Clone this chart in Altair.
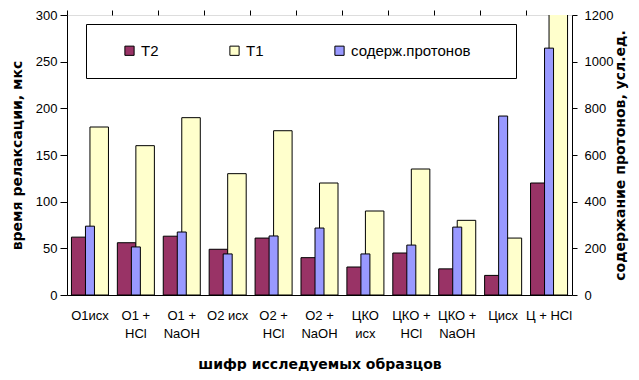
import altair as alt
import pandas as pd

categories = ["O1исх", "O1 +\nHCl", "O1 +\nNaOH", "O2 исх", "O2 +\nHCl", "O2 +\nNaOH",
              "ЦКО\nисх", "ЦКО +\nHCl", "ЦКО +\nNaOH", "Цисх", "Ц + HCl"]
t2 = [62, 56, 63, 49, 61, 40, 30, 45, 28, 21, 120]
t1 = [180, 160, 190, 130, 176, 120, 90, 135, 80, 61, 330]
protons = [295, 206, 270, 176, 253, 287, 176, 214, 291, 767, 1058]

series_names = ["T2", "T1", "содерж.протонов"]
series_colors = ["#993366", "#FFFFCC", "#9999FF"]

rows = []
for c, a, b, p in zip(categories, t2, t1, protons):
    rows.append({"cat": c, "series": "T2", "value": a})
    rows.append({"cat": c, "series": "T1", "value": b})
    rows.append({"cat": c, "series": "содерж.протонов", "value": p})
df = pd.DataFrame(rows)

FONT = "Liberation Sans"
TFONT = "DejaVu Sans"

x_enc = alt.X("cat:N", sort=categories,
              scale=alt.Scale(paddingInner=0, paddingOuter=0),
              axis=alt.Axis(title="шифр исследуемых образцов", labelAngle=0,
                            labelExpr="split(datum.label, '\\n')",
                            labelFont=FONT, labelFontSize=13, labelLineHeight=18,
                            labelPadding=14, labelColor="black",
                            ticks=False, domainColor="black",
                            titleFont=TFONT, titleFontSize=14, titleFontWeight="bold",
                            titlePadding=17, titleColor="black"))

color_enc = alt.Color("series:N",
                      scale=alt.Scale(domain=series_names, range=series_colors),
                      legend=alt.Legend(title="xx", titleOrient="right", titlePadding=10,
                                        titleFontSize=15, titleFont=FONT, titleColor="white",
                                        orient="none", direction="horizontal",
                                        legendX=19, legendY=9, columns=3,
                                        symbolType="square", symbolSize=85,
                                        symbolStrokeColor="black", symbolStrokeWidth=1,
                                        labelFont=FONT, labelFontSize=15, labelColor="black",
                                        columnPadding=51, padding=19, symbolOffset=17,
                                        strokeColor="black", fillColor="white",
                                        labelLimit=300))

primary = alt.Chart(df).transform_filter(
    alt.FieldOneOfPredicate(field="series", oneOf=["T2", "T1"])
).mark_bar(stroke="black", strokeWidth=1, clip=True).encode(
    x=x_enc,
    xOffset=alt.XOffset("series:N", sort=["T2", "T1"],
                        scale=alt.Scale(domain=["T2", "T1"], paddingInner=0, paddingOuter=0.24)),
    y=alt.Y("value:Q", scale=alt.Scale(domain=[0, 300], nice=False),
            axis=alt.Axis(title="время релаксации, мкс", values=[0, 50, 100, 150, 200, 250, 300],
                          grid=False, labelFont=FONT, labelFontSize=13, labelColor="black",
                          tickSize=7, tickColor="black", domainColor="black", labelPadding=3,
                          titleFont=TFONT, titleFontSize=14, titleFontWeight="bold",
                          titleColor="black", titlePadding=11)),
    color=color_enc,
)

secondary = alt.Chart(df).transform_filter(
    alt.FieldEqualPredicate(field="series", equal="содерж.протонов")
).mark_bar(stroke="black", strokeWidth=1, width=9, clip=True).encode(
    x=alt.X("cat:N", sort=categories, axis=None),
    y=alt.Y("value:Q", scale=alt.Scale(domain=[0, 1200], nice=False),
            axis=alt.Axis(title="содержание протонов, усл.ед.", orient="right",
                          values=[0, 200, 400, 600, 800, 1000, 1200], format="d",
                          grid=False, labelFont=FONT, labelFontSize=13, labelColor="black",
                          tickSize=5, tickColor="black", domainColor="black", labelPadding=7,
                          titleFont=TFONT, titleFontSize=14, titleFontWeight="bold",
                          titleColor="black", titleAngle=270, titleBaseline="top",
                          titlePadding=1)),
    color=color_enc,
)

ticks_layer = alt.Chart(df).transform_filter(
    alt.FieldEqualPredicate(field="series", equal="T2")
).mark_bar(opacity=0).encode(
    x=alt.X("cat:N", sort=categories,
            axis=alt.Axis(title=None, labels=False, bandPosition=0, ticks=True,
                          tickSize=5, tickColor="black", domain=False)),
    y=alt.Y("value:Q", axis=None, scale=alt.Scale(domain=[0, 300])),
)

chart = alt.layer(primary, secondary, ticks_layer).resolve_scale(
    y="independent"
).resolve_axis(x="independent").properties(
    width=505, height=280,
    autosize=alt.AutoSizeParams(type="none"),
    padding={"left": 59, "top": 7, "right": 59, "bottom": 76},
).configure_view(stroke="#808080", strokeWidth=1).configure(background="white")

chart.save("out.html", embed_options={"renderer": "svg", "actions": False})
